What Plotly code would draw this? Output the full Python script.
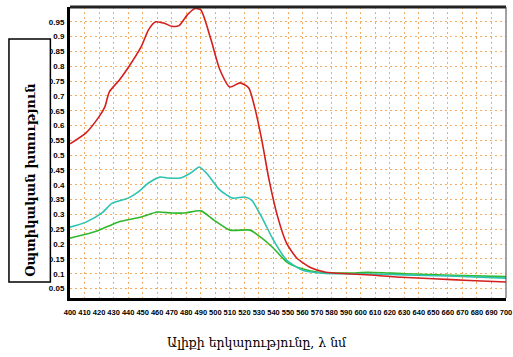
import plotly.graph_objects as go

# Red series
red_wl = [400, 411, 420, 424, 427, 434, 440, 449, 454, 459, 465, 470, 475, 481, 486, 490,
          497, 503, 510, 517, 523, 527, 532, 537, 543, 549, 556, 565, 576, 590, 610, 628,
          650, 675, 700]
red_od = [0.538, 0.575, 0.63, 0.663, 0.713, 0.754, 0.795, 0.866, 0.923, 0.95, 0.945, 0.935,
          0.937, 0.975, 0.995, 0.99, 0.89, 0.79, 0.73, 0.744, 0.727, 0.663, 0.55, 0.416, 0.29,
          0.203, 0.153, 0.122, 0.105, 0.1, 0.095, 0.088, 0.083, 0.077, 0.072]

# Cyan series
cyan_wl = [400, 411, 422, 429, 440, 447, 454, 462, 467, 476, 483, 489, 495, 503, 512, 520,
           525, 532, 540, 549, 560, 574, 583, 600, 630, 660, 700]
cyan_od = [0.257, 0.274, 0.305, 0.338, 0.355, 0.376, 0.406, 0.426, 0.423, 0.423, 0.44, 0.46,
           0.433, 0.383, 0.355, 0.359, 0.348, 0.29, 0.213, 0.146, 0.112, 0.102, 0.1, 0.1,
           0.096, 0.092, 0.085]

# Green series
green_wl = [400, 410, 420, 433, 449, 460, 470, 479, 490, 499, 510, 524, 531, 540, 549, 558,
            571, 592, 605, 630, 663, 700]
green_od = [0.22, 0.232, 0.247, 0.274, 0.291, 0.308, 0.305, 0.305, 0.312, 0.281, 0.247, 0.247,
            0.224, 0.186, 0.14, 0.119, 0.105, 0.102, 0.105, 0.1, 0.095, 0.09]

x_ticks = list(range(400, 701, 10))
y_ticks = [0.05, 0.1, 0.15, 0.2, 0.25, 0.3, 0.35, 0.4, 0.45, 0.5, 0.55, 0.6, 0.65, 0.7,
           0.75, 0.8, 0.85, 0.9, 0.95]
y_ticktext = [("%.2f" % v).rstrip("0") for v in y_ticks]

y_title = "Օպտիկական խտություն"
x_title = "Ալիքի երկարությունը, λ նմ"

fig = go.Figure()
for wl, od, col in [(green_wl, green_od, "#2fb82c"),
                    (cyan_wl, cyan_od, "#2cc3b0"),
                    (red_wl, red_od, "#d41f1f")]:
    fig.add_trace(go.Scatter(x=wl, y=od, mode="lines",
                             line=dict(color=col, width=1.6, shape="spline", smoothing=0.6),
                             showlegend=False, hoverinfo="skip"))

tickfont = dict(family="Liberation Sans, Arial, sans-serif", size=8, color="black", weight="bold")
grid = dict(showgrid=True, gridcolor="#f2ad62", gridwidth=1, griddash="2px,3px")

fig.update_layout(
    width=513, height=357,
    margin=dict(l=70, r=1, t=7, b=59),
    paper_bgcolor="white", plot_bgcolor="white",
    xaxis=dict(range=[400, 700], tickvals=x_ticks, ticktext=[str(v) for v in x_ticks],
               tickangle=0, tickfont=dict(tickfont, size=7.5), ticks="", zeroline=False,
               ticklabeloverflow="allow", ticklabelstandoff=5,
               showline=True, linecolor="black", linewidth=3, **grid),
    yaxis=dict(range=[0.018, 1.0], tickvals=y_ticks, ticktext=y_ticktext,
               tickfont=tickfont, ticks="", zeroline=False, ticklabelstandoff=1,
               showline=True, linecolor="black", linewidth=3, **grid),
    shapes=[
        dict(type="line", xref="paper", yref="paper", x0=0, x1=1, y0=1, y1=1,
             line=dict(color="#222222", width=3)),
        dict(type="line", xref="paper", yref="paper", x0=1, x1=1, y0=0, y1=1,
             line=dict(color="#444444", width=1)),
        dict(type="rect", xref="paper", yref="paper", x0=-0.140, x1=-0.045, y0=0.055, y1=0.89,
             line=dict(color="black", width=1.5), fillcolor="white", layer="above"),
    ],
    annotations=[
        dict(text=y_title, xref="paper", yref="paper", x=-0.0925, y=0.405, textangle=-90,
             showarrow=False, xanchor="center", yanchor="middle",
             font=dict(family="DejaVu Serif, serif", size=13, color="black", weight="bold")),
        dict(text=x_title, xref="paper", yref="paper", x=0.43, y=-0.152,
             showarrow=False, xanchor="center", yanchor="middle",
             font=dict(family="DejaVu Serif, serif", size=12.5, color="black")),
    ],
)

fig.write_html("out.html")
